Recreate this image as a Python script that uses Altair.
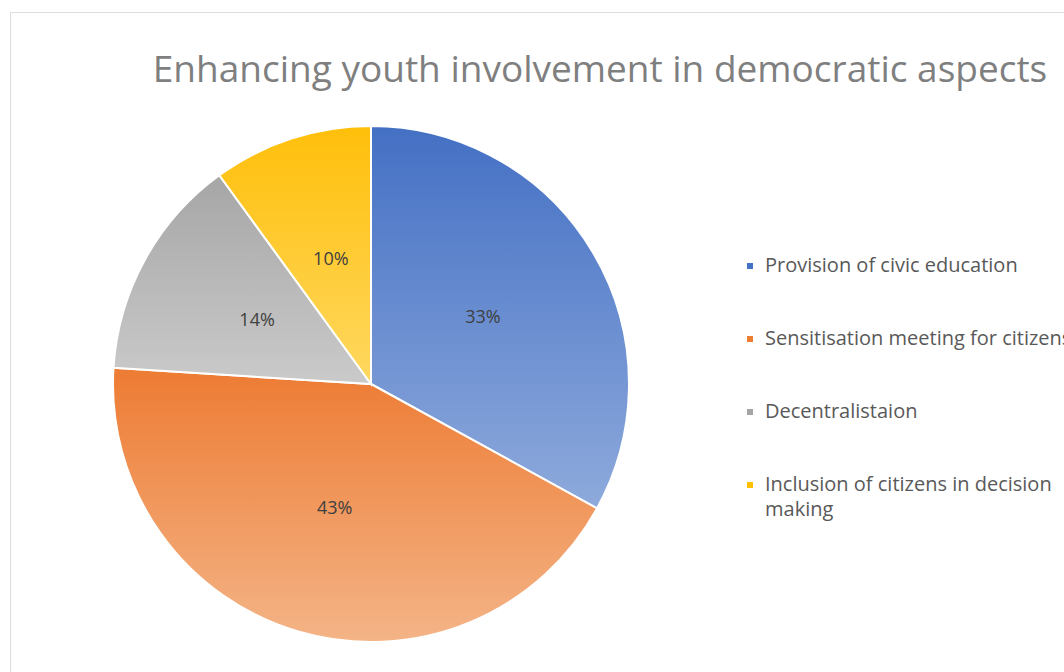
import altair as alt
import pandas as pd

title_text = "Enhancing youth involvement in democratic aspects"
categories = ["Provision of civic education", "Sensitisation meeting for citizens",
              "Decentralistaion", "Inclusion of citizens in decision making"]
values = [33, 43, 14, 10]
labels = ["33%", "43%", "14%", "10%"]
solid_colors = ["#4472c4", "#ed7d31", "#a5a5a5", "#ffc000"]
grad_top = ["#4470c4", "#ed7b33", "#a6a6a6", "#ffbf0a"]
grad_bottom = ["#8eaadc", "#f4b487", "#cacaca", "#ffd860"]

df = pd.DataFrame({"cat": categories, "val": values, "lab": labels, "order": [0, 1, 2, 3]})

theta_scale = alt.Scale(domain=[0, 100])
RADIUS = 258
CX, CY = 361, 372

base = alt.Chart(df).transform_window(
    cum="sum(val)", sort=[alt.SortField("order")]
).transform_calculate(
    start="datum.cum - datum.val", mid="datum.cum - datum.val/2"
)

solid = base.mark_arc(radius=RADIUS, stroke="white", strokeWidth=2).encode(
    theta=alt.Theta("start:Q", scale=theta_scale),
    theta2="cum:Q",
    color=alt.Color("cat:N", sort=categories,
                    scale=alt.Scale(domain=categories, range=solid_colors),
                    legend=alt.Legend(title=None, orient="none", legendX=730, legendY=244,
                                      symbolType="square", symbolSize=36, symbolStrokeWidth=0,
                                      labelFont="Open Sans", labelFontSize=20, labelColor="#595959",
                                      labelLimit=600, rowPadding=53, padding=0, labelOffset=5,
                                      labelExpr="datum.label == 'Inclusion of citizens in decision making' ? ['Inclusion of citizens in decision', 'making'] : datum.label")),
    x=alt.value(CX), y=alt.value(CY),
)

layers = [solid]
for i, c in enumerate(categories):
    grad = alt.LinearGradient(
        gradient="linear", x1=0, y1=0, x2=0, y2=1,
        stops=[alt.GradientStop(offset=0, color=grad_top[i]),
               alt.GradientStop(offset=1, color=grad_bottom[i])])
    layers.append(
        base.transform_filter(alt.datum.cat == c).mark_arc(
            radius=RADIUS, stroke="white", strokeWidth=2, fill=grad
        ).encode(
            theta=alt.Theta("start:Q", scale=theta_scale),
            theta2="cum:Q",
            x=alt.value(CX), y=alt.value(CY),
        )
    )

text = base.mark_text(radius=130, font="Open Sans", fontSize=18, color="#404040").encode(
    theta=alt.Theta("mid:Q", scale=theta_scale),
    text="lab:N",
    x=alt.value(CX), y=alt.value(CY),
)
layers.append(text)

title = alt.Chart(pd.DataFrame({"t": [title_text]})).mark_text(
    font="Open Sans", fontSize=37, color="#7f7f7f", align="center", baseline="alphabetic"
).encode(text="t:N", x=alt.value(590), y=alt.value(70))
layers.append(title)

chart = alt.layer(*layers).properties(
    width=1054, height=660,
    padding={"left": 10, "top": 12, "right": 0, "bottom": 0},
    autosize=alt.AutoSizeParams(type="none"),
    background="white",
).configure_view(fill="#f2f2f2", stroke="#d0d0d0", strokeWidth=1
).configure(style={"guide-label": {"lineHeight": 25}})

chart.save("out.html", embed_options={"renderer": "svg", "actions": False})
